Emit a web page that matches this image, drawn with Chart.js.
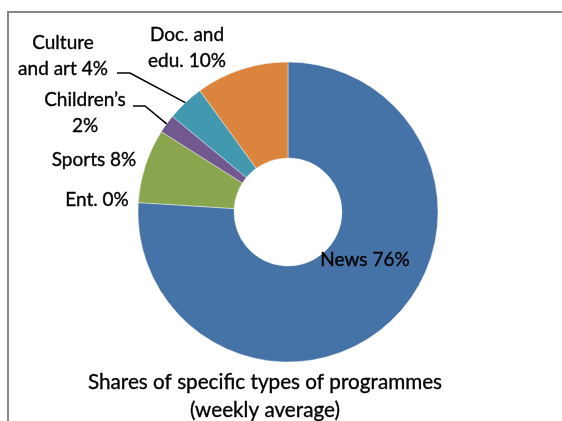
<!DOCTYPE html>
<html>
<head>
<meta charset="utf-8">
<script src="https://cdn.jsdelivr.net/npm/chart.js@4"></script>
<style>
  html, body { margin: 0; padding: 0; background: #fff; }
  #wrap { position: relative; width: 562px; height: 421px; }
</style>
</head>
<body>
<div id="wrap"><canvas id="donut" width="562" height="421"></canvas></div>
<script>
// programme types and their weekly share (%)
const categories = ['News', 'Ent.', 'Sports', 'Children’s', 'Culture and art', 'Doc. and edu.'];
const shares = [76, 0, 8, 2, 4, 10];
const colours = ['#4572A7', '#4572A7', '#89A54E', '#71588F', '#4198AF', '#DB843D'];
// label text per slice, {v} is replaced by the share
const labelText = ['News {v}%', 'Ent. {v}%', 'Sports {v}%', 'Children’s\n{v}%', 'Culture\nand art {v}%', 'Doc. and\nedu. {v}%'];
const titleLines = ['Shares of specific types of programmes', '(weekly average)'];

// where each label sits (centre x, first line y) and optional leader line start/elbow
const labelPos = [
  { x: 365, y: 260 },
  { x: 97, y: 200 },
  { x: 94, y: 160 },
  { x: 85, y: 100, leader: [[133, 106], [145, 106]] },
  { x: 63, y: 43, leader: [[117, 73], [130, 73]] },
  { x: 187, y: 35 }
];

const FONT = '"Lato", "Noto Sans", sans-serif';

const frame = {
  id: 'frame',
  beforeDraw(chart) {
    const c = chart.ctx;
    c.save();
    c.strokeStyle = '#878787';
    c.lineWidth = 2;
    c.beginPath();
    c.moveTo(8, 421);
    c.lineTo(8, 12);
    c.lineTo(562, 12);
    c.stroke();
    c.restore();
  }
};

function drawText(c, txt, x, y) {
  c.fillText(txt, x, y);
  c.strokeText(txt, x, y);
}

const sliceLabels = {
  id: 'sliceLabels',
  afterDraw(chart) {
    const c = chart.ctx;
    const arcs = chart.getDatasetMeta(0).data;
    c.save();
    c.fillStyle = '#000';
    c.strokeStyle = '#000';
    c.lineWidth = 0.35;
    c.font = '19px ' + FONT;
    c.textAlign = 'center';
    c.textBaseline = 'middle';
    arcs.forEach((arc, i) => {
      const pos = labelPos[i];
      const lines = labelText[i].replace('{v}', shares[i]).split('\n');
      lines.forEach((ln, k) => drawText(c, ln, pos.x, pos.y + k * 25.5));
      if (pos.leader) {
        const p = arc.getProps(['x', 'y', 'startAngle', 'endAngle', 'outerRadius'], true);
        const mid = (p.startAngle + p.endAngle) / 2;
        c.save();
        c.lineWidth = 1.6;
        c.beginPath();
        c.moveTo(pos.leader[0][0], pos.leader[0][1]);
        c.lineTo(pos.leader[1][0], pos.leader[1][1]);
        c.lineTo(p.x + Math.cos(mid) * p.outerRadius, p.y + Math.sin(mid) * p.outerRadius);
        c.stroke();
        c.restore();
      }
    });
    // caption under the ring
    c.font = '20.7px ' + FONT;
    titleLines.forEach((ln, k) => drawText(c, ln, 265, 382 + k * 28));
    c.restore();
  }
};

new Chart(document.getElementById('donut').getContext('2d'), {
  type: 'doughnut',
  data: {
    labels: categories,
    datasets: [{
      data: shares,
      backgroundColor: colours,
      borderColor: 'rgba(255,255,255,0.4)',
      borderWidth: 1
    }]
  },
  options: {
    responsive: false,
    animation: false,
    radius: 150,
    cutout: '36%',
    layout: { padding: { left: 14, right: 0, top: 3, bottom: 0 } },
    plugins: {
      legend: { display: false },
      tooltip: { enabled: false }
    }
  },
  plugins: [frame, sliceLabels]
});
</script>
</body>
</html>
